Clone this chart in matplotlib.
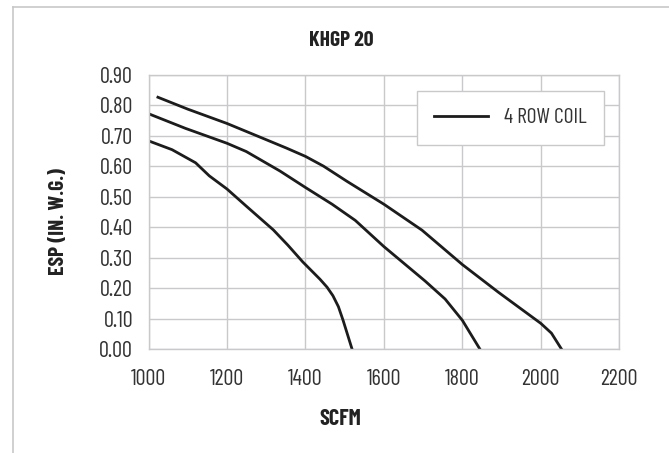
import matplotlib
matplotlib.use("Agg")
import matplotlib.pyplot as plt
from matplotlib import font_manager
from matplotlib.lines import Line2D

# Fan curves (SCFM vs ESP in. w.g.)
top_scfm = [1024, 1100, 1200, 1292, 1352, 1400, 1446, 1506, 1600, 1697, 1800, 1892, 2000, 2027, 2053]
top_esp = [0.827, 0.788, 0.741, 0.692, 0.660, 0.633, 0.601, 0.551, 0.476, 0.391, 0.278, 0.187, 0.085, 0.053, 0.0]

mid_scfm = [1000, 1094, 1200, 1249, 1335, 1400, 1468, 1527, 1600, 1705, 1756, 1800, 1845]
mid_esp = [0.773, 0.725, 0.676, 0.649, 0.585, 0.531, 0.476, 0.423, 0.337, 0.224, 0.165, 0.095, 0.0]

low_scfm = [1000, 1060, 1120, 1155, 1200, 1249, 1318, 1355, 1393, 1437, 1455, 1470, 1484, 1496, 1519]
low_esp = [0.684, 0.655, 0.612, 0.569, 0.526, 0.470, 0.392, 0.342, 0.287, 0.230, 0.204, 0.176, 0.140, 0.095, 0.0]

x_ticks = [1000, 1200, 1400, 1600, 1800, 2000, 2200]
y_ticks = [0.0, 0.1, 0.2, 0.3, 0.4, 0.5, 0.6, 0.7, 0.8, 0.9]

title = "KHGP 20"
x_label = "SCFM"
y_label = "ESP (IN. W.G.)"
legend_label = "4 ROW COIL"

# narrow face with real bold weights
installed = {f.name for f in font_manager.fontManager.ttflist}
font = 'DejaVu Sans'
for cand in ['Barlow Condensed', 'Asap Condensed', 'Roboto Condensed', 'Oswald']:
    if cand in installed:
        font = cand
        break
plt.rcParams['font.family'] = [font, 'DejaVu Sans']

W, H = 669, 453
fig = plt.figure(figsize=(W / 100, H / 100), dpi=100)
ax = fig.add_axes([148.5 / W, 1 - 349.3 / H, (619.3 - 148.5) / W, (349.3 - 75) / H])

line_col = '#1c1c1c'
grid_col = '#c9c9cc'
text_col = '#333333'

ax.plot(top_scfm, top_esp, color=line_col, lw=2.0, label=legend_label, solid_joinstyle='round')
ax.plot(mid_scfm, mid_esp, color=line_col, lw=2.0, solid_joinstyle='round')
ax.plot(low_scfm, low_esp, color=line_col, lw=2.0, solid_joinstyle='round')

ax.set_xlim(1000, 2200)
ax.set_ylim(0, 0.9)
ax.set_xticks(x_ticks)
ax.set_yticks(y_ticks)
ax.set_yticklabels([f"{v:.2f}" for v in y_ticks])
ax.tick_params(length=0, labelsize=16, labelcolor=text_col)
ax.tick_params(axis='x', pad=14)
ax.tick_params(axis='y', pad=11)
for lbl in ax.get_xticklabels() + ax.get_yticklabels():
    lbl.set_fontweight(400)
ax.grid(True, color=grid_col, lw=1.0)
ax.set_axisbelow(True)
for s in ax.spines.values():
    s.set_color(grid_col)
    s.set_linewidth(1.0)

leg = ax.legend(loc='upper right', bbox_to_anchor=(603.7 / W, 1 - 91 / H),
                bbox_transform=fig.transFigure, borderaxespad=0,
                prop={'size': 15.5, 'weight': 400},
                handlelength=2.5, handletextpad=0.75, borderpad=0.8,
                fancybox=False, framealpha=1, edgecolor=grid_col)
leg.get_frame().set_linewidth(1.0)
for t in leg.get_texts():
    t.set_color(text_col)

fig.text(341 / W, 1 - 40 / H, title, ha='center', va='center', fontsize=15.5,
         fontweight='bold', color='#222222')
fig.text(340 / W, 1 - 419 / H, x_label, ha='center', va='center', fontsize=16,
         fontweight='bold', color='#222222')
fig.text(59 / W, 1 - 222 / H, y_label, ha='center', va='center', fontsize=15.5,
         fontweight='bold', color='#222222', rotation=90)

# light outer frame (left and top edges visible)
fig.add_artist(Line2D([13 / W, 13 / W], [0, 1 - 7 / H], transform=fig.transFigure,
                      color='#c8c8c8', lw=1.2))
fig.add_artist(Line2D([13 / W, 1], [1 - 7 / H, 1 - 7 / H], transform=fig.transFigure,
                      color='#c8c8c8', lw=1.2))

fig.savefig('out.png', dpi=100)
